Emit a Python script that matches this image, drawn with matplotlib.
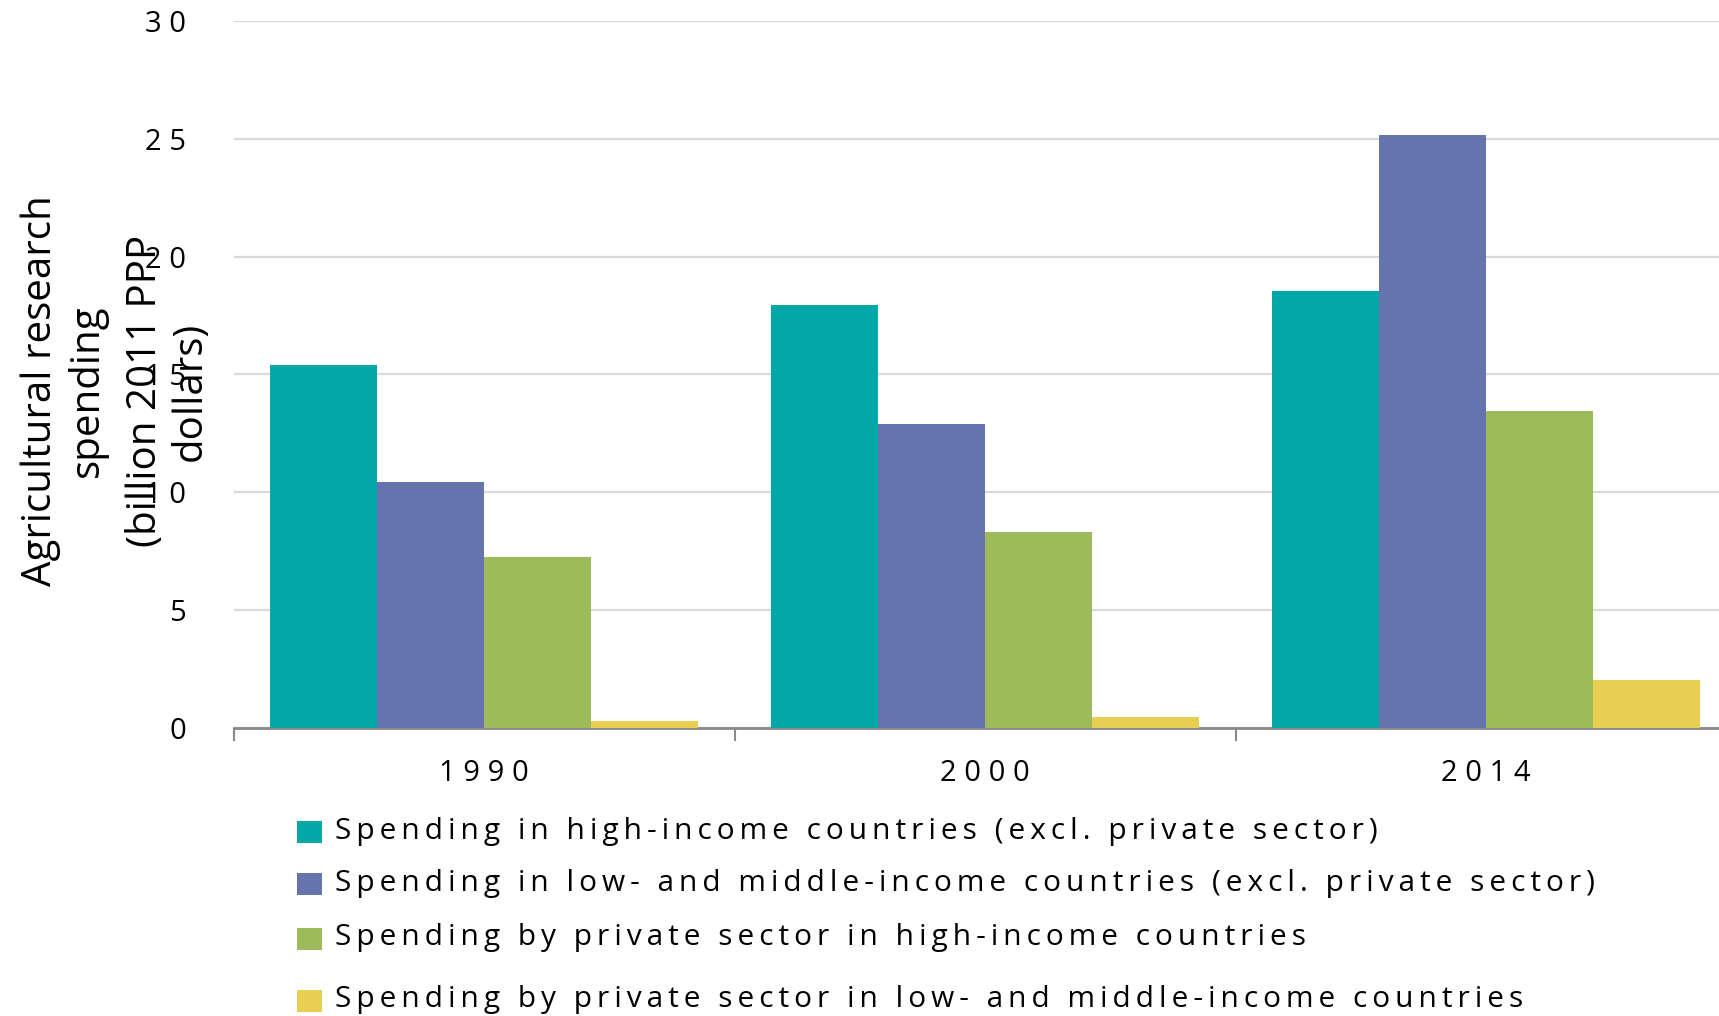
import matplotlib
matplotlib.use("Agg")
import matplotlib.pyplot as plt
from matplotlib import font_manager
from matplotlib.patches import Rectangle

years = ["1990", "2000", "2014"]
series_names = [
    "Spending in high-income countries (excl. private sector)",
    "Spending in low- and middle-income countries (excl. private sector)",
    "Spending by private sector in high-income countries",
    "Spending by private sector in low- and middle-income countries",
]
high_income_public = [15.4, 17.95, 18.55]
lmic_public = [10.45, 12.9, 25.15]
high_income_private = [7.27, 8.3, 13.45]
lmic_private = [0.28, 0.47, 2.03]
y_ticks = [0, 5, 10, 15, 20, 25, 30]
colors = ["#02A8A8", "#6674AE", "#9DBB5A", "#E8CF52"]

values = [high_income_public, lmic_public, high_income_private, lmic_private]

avail = {f.name for f in font_manager.fontManager.ttflist}
cands = ["Liberation Sans Narrow", "Open Sans", "Liberation Sans", "DejaVu Sans"]
main_font = next(c for c in cands if c in avail)
fam = [main_font, "DejaVu Sans"]
plt.rcParams["font.family"] = fam

def spaced(s, sp="\u2009"):
    return sp.join(s)

W, H = 1719, 1016
fig = plt.figure(figsize=(W / 100, H / 100), dpi=100)
ax = fig.add_axes([233.5 / W, 288 / H, 1503 / W, 707.2 / H])

x = list(range(len(years)))
bw = 0.2135
for i, (vals, c) in enumerate(zip(values, colors)):
    off = (i - 1.5) * bw
    ax.bar([xi + off for xi in x], vals, width=bw, color=c, zorder=3, linewidth=0)

ax.set_xlim(-0.5, 2.5)
ax.set_ylim(0, 30)
ax.set_yticks(y_ticks)
ax.set_yticklabels([spaced(str(t), " ") for t in y_ticks], fontsize=21, color="black")
ax.tick_params(axis="y", length=0, pad=34)
ax.grid(axis="y", color="#D9D9D9", linewidth=1.6, zorder=0)
ax.set_xticks(x)
ax.set_xticklabels([spaced(y, " ") for y in years], fontsize=21)
ax.set_xticks([-0.5, 0.5, 1.5, 2.5], minor=True)
ax.tick_params(axis="x", which="major", length=0, pad=22)
ax.tick_params(axis="x", which="minor", length=9, width=1.5, color="#898989")
for s in ["top", "right", "left"]:
    ax.spines[s].set_visible(False)
ax.spines["bottom"].set_color("#898989")
ax.spines["bottom"].set_linewidth(2)

fig.text(64 / W, 1 - 391 / H, "Agricultural research\nspending", rotation=90,
         ha="center", va="center", multialignment="center", fontsize=29, linespacing=1.2)
fig.text(168 / W, 1 - 391 / H, "(billion 2011 PPP\ndollars)", rotation=90,
         ha="center", va="center", multialignment="center", fontsize=29, linespacing=1.15)

rows_y = [831, 883, 938, 1000]
for name, c, yy in zip(series_names, colors, rows_y):
    fig.add_artist(Rectangle((297 / W, 1 - (yy + 12) / H), 25 / W, 22 / H,
                             transform=fig.transFigure, color=c, linewidth=0))
    fig.text(335 / W, 1 - yy / H, spaced(name, "\u2009"), ha="left", va="center", fontsize=21.5)

fig.savefig("out.png", dpi=100)
